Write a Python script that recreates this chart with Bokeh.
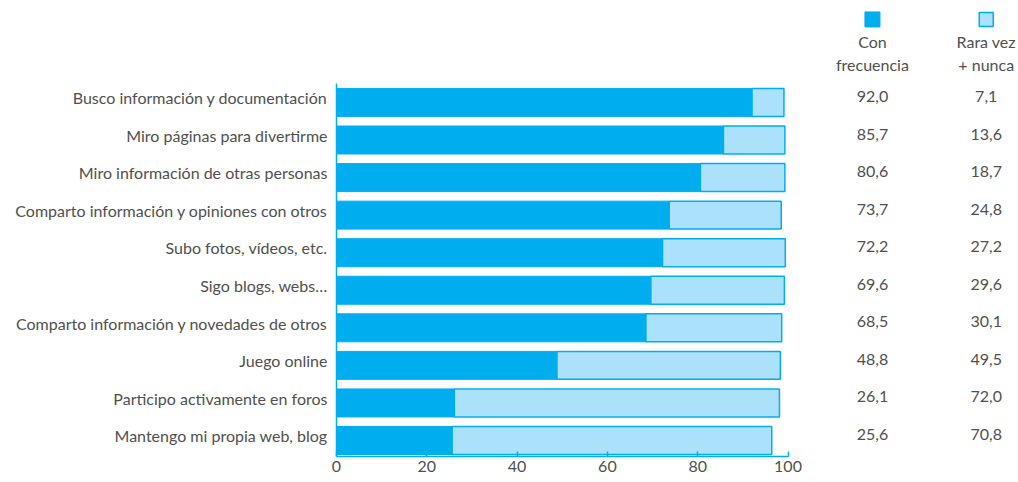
from bokeh.plotting import figure
from bokeh.models import Range1d, FixedTicker, ColumnDataSource
from bokeh.core.properties import value
from bokeh.embed import file_html
from bokeh.resources import INLINE

categories = [
    "Busco información y documentación",
    "Miro páginas para divertirme",
    "Miro información de otras personas",
    "Comparto información y opiniones con otros",
    "Subo fotos, vídeos, etc.",
    "Sigo blogs, webs…",
    "Comparto información y novedades de otros",
    "Juego online",
    "Participo activamente en foros",
    "Mantengo mi propia web, blog",
]
con_frecuencia = [92.0, 85.7, 80.6, 73.7, 72.2, 69.6, 68.5, 48.8, 26.1, 25.6]
rara_vez_nunca = [7.1, 13.6, 18.7, 24.8, 27.2, 29.6, 30.1, 49.5, 72.0, 70.8]
series_names = [["Con", "frecuencia"], ["Rara vez", "+ nunca"]]
x_ticks = [0, 20, 40, 60, 80, 100]

DARK = "#00AEEF"
LIGHT = "#ABE1FA"
TEXT = "#505050"
FONT = "Lato"
FS = "16px"

n = len(categories)
ypos = [n - 1 - i for i in range(n)]
src = ColumnDataSource(dict(
    y=ypos,
    con=con_frecuencia,
    total=[a + b for a, b in zip(con_frecuencia, rara_vez_nunca)],
    con_lbl=[f"{v:.1f}".replace(".", ",") for v in con_frecuencia],
    rara_lbl=[f"{v:.1f}".replace(".", ",") for v in rara_vez_nunca],
))

p = figure(width=1018, height=482, output_backend="svg", toolbar_location=None,
           x_range=Range1d(0, 151.05), y_range=Range1d(-0.426, 11.714),
           min_border_left=336, min_border_right=0, min_border_top=0,
           min_border_bottom=26)
p.outline_line_color = None
p.xgrid.visible = False
p.ygrid.visible = False
p.background_fill_color = "white"
p.border_fill_color = "white"

bar_h = 0.745
p.hbar(y="y", left="total", right="con", height=bar_h, source=src,
       fill_color=LIGHT, line_color=DARK, line_width=1.5)
p.hbar(y="y", left=0, right="con", height=bar_h, source=src,
       fill_color=DARK, line_color=DARK, line_width=1)

col_x = [118.7, 143.9]
p.text(x=col_x[0], y="y", text="con_lbl", source=src, text_align="center",
       text_baseline="middle", text_font=value(FONT), text_font_size=FS,
       text_color=TEXT, y_offset=-6)
p.text(x=col_x[1], y="y", text="rara_lbl", source=src, text_align="center",
       text_baseline="middle", text_font=value(FONT), text_font_size=FS,
       text_color=TEXT, y_offset=-6)

# legend header
p.scatter(x=[col_x[0]], y=[11.21], marker="square", size=15,
          fill_color=DARK, line_color=DARK)
p.scatter(x=[col_x[1]], y=[11.21], marker="square", size=14,
          fill_color=LIGHT, line_color=DARK, line_width=1.5)
for cx, lines in zip(col_x, series_names):
    p.text(x=[cx, cx], y=[10.57, 9.98], text=lines, text_align="center",
           text_baseline="middle", text_font=value(FONT), text_font_size=FS,
           text_color=TEXT, y_offset=-1.5)

xa = p.xaxis[0]
xa.ticker = FixedTicker(ticks=x_ticks)
xa.bounds = (0, 100)
xa.axis_line_color = DARK
xa.axis_line_width = 1.5
xa.major_tick_line_color = DARK
xa.major_tick_line_width = 1.5
xa.major_tick_in = 5
xa.major_tick_out = 0
xa.minor_tick_line_color = None
xa.major_label_text_font = FONT
xa.major_label_text_font_size = FS
xa.major_label_text_color = TEXT
xa.major_label_standoff = 4

label_ticks = [y + 0.125 for y in ypos]
ya = p.yaxis[0]
ya.ticker = FixedTicker(ticks=label_ticks)
ya.major_label_overrides = {t: c for t, c in zip(label_ticks, categories)}
ya.bounds = (-0.426, 9.5)
ya.axis_line_color = DARK
ya.axis_line_width = 1.5
ya.major_tick_line_color = None
ya.minor_tick_line_color = None
ya.major_tick_in = 0
ya.major_tick_out = 0
ya.major_label_standoff = 9
ya.major_label_text_font = FONT
ya.major_label_text_font_size = FS
ya.major_label_text_color = TEXT

open("out.html", "w").write(file_html(p, INLINE))
